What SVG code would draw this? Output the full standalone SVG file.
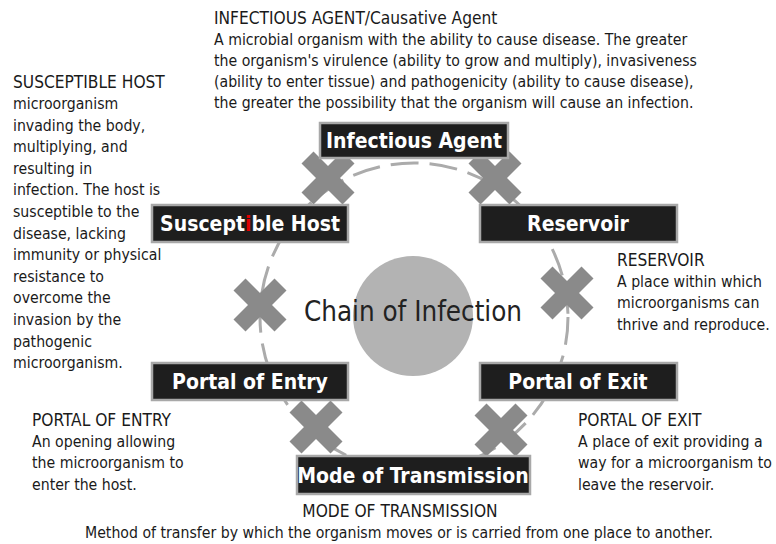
<svg xmlns="http://www.w3.org/2000/svg" width="776" height="544" viewBox="0 0 776 544">
<style>
.body{font-family:"DejaVu Sans Condensed","DejaVu Sans","Liberation Sans Narrow",sans-serif;font-stretch:condensed;font-size:15.7px;fill:#1a1a1a}
.ttl{font-size:17.2px}
.box{fill:#1e1e1e;stroke:#a8a8a8;stroke-width:2.5}
.lbl{font-family:"DejaVu Sans Condensed","DejaVu Sans","Liberation Sans Narrow",sans-serif;font-stretch:condensed;font-weight:bold;font-size:21px;fill:#fff;text-anchor:middle}
.x{fill:#8a8a8a}
</style>
<defs>
<g id="xm"><rect x="-29" y="-8.5" width="58" height="17" transform="rotate(45)"/><rect x="-29" y="-8.5" width="58" height="17" transform="rotate(-45)"/></g>
</defs>
<rect width="776" height="544" fill="#fff"/>
<g id="connectors">
<circle cx="414" cy="317" r="154" fill="none" stroke="#ababab" stroke-width="3" stroke-dasharray="28 11"/>
</g>
<g id="center">
<circle cx="413" cy="316" r="60" fill="#b3b3b3"/>
<text x="413" y="321" text-anchor="middle" style="font-family:'DejaVu Sans Condensed','DejaVu Sans',sans-serif;font-stretch:condensed;font-size:27.5px;fill:#222">Chain of Infection</text>
</g>
<g id="breaks" class="x">
<use href="#xm" x="328" y="178"/>
<use href="#xm" x="495" y="178"/>
<use href="#xm" x="260" y="305"/>
<use href="#xm" x="567" y="293"/>
<use href="#xm" x="316" y="427"/>
<use href="#xm" x="501" y="430"/>
</g>
<g id="infectious-agent">
<rect class="box" x="320" y="123" width="188" height="35"/>
<text class="lbl" x="414" y="148">Infectious Agent</text>
</g>
<g id="reservoir">
<rect class="box" x="480" y="205" width="197" height="37"/>
<text class="lbl" x="578" y="231">Reservoir</text>
</g>
<g id="susceptible-host">
<rect class="box" x="152" y="205" width="196" height="37"/>
<text class="lbl" x="250" y="231">Suscept<tspan fill="#e00000">i</tspan>ble Host</text>
</g>
<g id="portal-of-entry">
<rect class="box" x="152" y="363" width="196" height="37"/>
<text class="lbl" x="250" y="389">Portal of Entry</text>
</g>
<g id="portal-of-exit">
<rect class="box" x="480" y="363" width="197" height="37"/>
<text class="lbl" x="578" y="389">Portal of Exit</text>
</g>
<g id="mode-of-transmission">
<rect class="box" x="297" y="456" width="233" height="38"/>
<text class="lbl" x="413" y="483">Mode of Transmission</text>
</g>
<g id="desc-infectious-agent" class="body">
<text x="214" y="24" class="ttl">INFECTIOUS AGENT/Causative Agent</text>
<text x="214" y="45">A microbial organism with the ability to cause disease. The greater</text>
<text x="214" y="66">the organism's virulence (ability to grow and multiply), invasiveness</text>
<text x="214" y="87">(ability to enter tissue) and pathogenicity (ability to cause disease),</text>
<text x="214" y="108">the greater the possibility that the organism will cause an infection.</text>
</g>
<g id="desc-susceptible-host" class="body">
<text x="13" y="88" class="ttl">SUSCEPTIBLE HOST</text>
<text x="13" y="109">microorganism</text>
<text x="13" y="130.6">invading the body,</text>
<text x="13" y="152.2">multiplying, and</text>
<text x="13" y="173.8">resulting in</text>
<text x="13" y="195.4">infection. The host is</text>
<text x="13" y="217">susceptible to the</text>
<text x="13" y="238.6">disease, lacking</text>
<text x="13" y="260.2">immunity or physical</text>
<text x="13" y="281.8">resistance to</text>
<text x="13" y="303.4">overcome the</text>
<text x="13" y="325">invasion by the</text>
<text x="13" y="346.6">pathogenic</text>
<text x="13" y="368.2">microorganism.</text>
</g>
<g id="desc-reservoir" class="body">
<text x="617" y="266" class="ttl">RESERVOIR</text>
<text x="617" y="287">A place within which</text>
<text x="617" y="308">microorganisms can</text>
<text x="617" y="330">thrive and reproduce.</text>
</g>
<g id="desc-portal-of-entry" class="body">
<text x="32" y="426" class="ttl">PORTAL OF ENTRY</text>
<text x="32" y="447">An opening allowing</text>
<text x="32" y="468">the microorganism to</text>
<text x="32" y="490">enter the host.</text>
</g>
<g id="desc-portal-of-exit" class="body">
<text x="578" y="426" class="ttl">PORTAL OF EXIT</text>
<text x="578" y="447">A place of exit providing a</text>
<text x="578" y="468">way for a microorganism to</text>
<text x="578" y="490">leave the reservoir.</text>
</g>
<g id="desc-mode-of-transmission" class="body">
<text x="400" y="517" class="ttl" text-anchor="middle">MODE OF TRANSMISSION</text>
<text x="399" y="538" text-anchor="middle">Method of transfer by which the organism moves or is carried from one place to another.</text>
</g>
</svg>
